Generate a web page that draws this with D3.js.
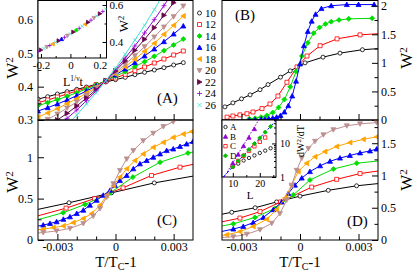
<!DOCTYPE html>
<html>
<head>
<meta charset="utf-8">
<script src="https://cdn.jsdelivr.net/npm/d3@7"></script>
<style>
  body { margin: 0; background: #fff; }
  svg text { font-family: 'Liberation Serif', 'Times New Roman', serif; fill: #000; }
</style>
</head>
<body>
<svg id="chart" width="415" height="272"></svg>
<script>
// ---- values ----
const sizes = [10, 12, 14, 16, 18, 20, 22, 24, 26]

// panel A, all sizes on one t grid
const tA = [-0.004, -0.0035, -0.003, -0.0025, -0.002, -0.0015, -0.001, -0.0005, 0, 0.0005, 0.001, 0.0015, 0.002, 0.0025, 0.003, 0.0035]
const wA10 = [0.363, 0.370, 0.378, 0.385, 0.392, 0.399, 0.407, 0.414, 0.421, 0.428, 0.436, 0.443, 0.450, 0.457, 0.465, 0.472]
const wA12 = [0.352, 0.360, 0.369, 0.378, 0.387, 0.396, 0.406, 0.416, 0.426, 0.437, 0.448, 0.459, 0.471, 0.483, 0.495, 0.507]
const wA14 = [0.343, 0.352, 0.361, 0.371, 0.382, 0.393, 0.405, 0.418, 0.431, 0.445, 0.460, 0.475, 0.491, 0.508, 0.525, 0.543]
const wA16 = [0.327, 0.337, 0.348, 0.360, 0.373, 0.387, 0.402, 0.418, 0.435, 0.453, 0.472, 0.492, 0.513, 0.535, 0.558, 0.582]
const wA18 = [0.309, 0.321, 0.334, 0.349, 0.364, 0.381, 0.399, 0.418, 0.438, 0.460, 0.482, 0.506, 0.530, 0.557, 0.584, 0.612]
const wA20 = [0.287, 0.302, 0.318, 0.336, 0.354, 0.374, 0.396, 0.418, 0.442, 0.467, 0.493, 0.520, 0.549, 0.579, 0.610, 0.642]
const wA22 = [0.264, 0.281, 0.300, 0.320, 0.342, 0.366, 0.391, 0.418, 0.447, 0.477, 0.509, 0.542, 0.577, 0.614, 0.652, 0.692]
const wA24 = [0.239, 0.259, 0.281, 0.305, 0.330, 0.358, 0.387, 0.418, 0.451, 0.486, 0.522, 0.561, 0.601, 0.643, 0.687, 0.732]
const wA26 = [0.208, 0.231, 0.257, 0.285, 0.315, 0.348, 0.382, 0.418, 0.456, 0.497, 0.540, 0.584, 0.631, 0.680, 0.731, 0.785]

// inset of A: collapse against L^(1/nu) t
const uIns = [-0.22, -0.2, -0.18, -0.16, -0.14, -0.12, -0.1, -0.08, -0.06, -0.04, -0.02, 0, 0.02, 0.04, 0.06, 0.08, 0.1, 0.12, 0.14, 0.16, 0.18, 0.2, 0.22, 0.24]
const wIns = [0.350, 0.357, 0.365, 0.373, 0.381, 0.389, 0.398, 0.407, 0.416, 0.425, 0.434, 0.444, 0.454, 0.464, 0.474, 0.485, 0.496, 0.507, 0.518, 0.530, 0.541, 0.553, 0.565, 0.578]
const lIns = [24, 22, 26, 20, 24, 18, 26, 22, 16, 24, 20, 26, 22, 14, 24, 26, 18, 22, 24, 20, 26, 22, 24, 26]

// panel B
const tB10 = [-0.00385, -0.00344, -0.003, -0.00256, -0.00205, -0.00164, -0.001, -0.0005, 0.00026, 0.00118, 0.00205, 0.0032, 0.0045]
const wB10 = [0.23, 0.30, 0.37, 0.44, 0.53, 0.62, 0.75, 0.86, 1.0, 1.1, 1.17, 1.23, 1.26]
const tB12 = [-0.00374, -0.00344, -0.00308, -0.00272, -0.00241, -0.00195, -0.00154, -0.00113, -0.00067, -0.00015, 0.00036, 0.00103, 0.0019, 0.00308, 0.0045]
const wB12 = [0.05, 0.07, 0.09, 0.11, 0.14, 0.20, 0.28, 0.42, 0.66, 0.93, 1.12, 1.30, 1.42, 1.49, 1.52]
const tB14 = [-0.0026, -0.0023, -0.002, -0.0017, -0.0014, -0.0011, -0.0008, -0.0005, -0.0002, 0.0001, 0.0004, 0.0007, 0.001, 0.0013, 0.0016, 0.002, 0.0025, 0.0037]
const wB14 = [0.02, 0.03, 0.05, 0.08, 0.13, 0.22, 0.36, 0.58, 0.85, 1.12, 1.35, 1.52, 1.62, 1.68, 1.72, 1.75, 1.77, 1.78]
const tB16 = [-0.0026, -0.0023, -0.002, -0.0018, -0.0016, -0.0014, -0.0012, -0.001, -0.0008, -0.0006, -0.0004, -0.0002, 0, 0.0002, 0.0004, 0.0006, 0.0008, 0.0011, 0.0016, 0.0024, 0.003, 0.0038]
const wB16 = [0.0, 0.005, 0.01, 0.015, 0.02, 0.035, 0.05, 0.08, 0.14, 0.25, 0.42, 0.68, 0.98, 1.3, 1.55, 1.73, 1.85, 1.95, 2.0, 2.02, 2.02, 2.02]

// panel C
const tC10 = [-0.0046, -0.0024, -0.0002, 0.002, 0.0042]
const wC10 = [0.34, 0.45, 0.57, 0.69, 0.78]
const tC12 = [-0.0045, -0.00255, -0.00108, 0.00039, 0.00186, 0.00333, 0.0045]
const wC12 = [0.26, 0.385, 0.50, 0.63, 0.78, 0.88, 0.94]
const tC14 = [-0.0044, -0.0027, -0.00157, -0.00028, 0.0009, 0.0023, 0.00374, 0.0045]
const wC14 = [0.22, 0.33, 0.43, 0.57, 0.76, 0.94, 1.05, 1.09]
const tC16 = [-0.0042, -0.00373, -0.00338, -0.00304, -0.00269, -0.00235, -0.002, -0.00166, -0.00132, -0.00097, -0.00063, -0.00028, -0.00003, 0.00023, 0.00058, 0.00092, 0.00126, 0.00161, 0.00195, 0.0023, 0.00264, 0.00298, 0.00333, 0.00367, 0.004]
const wC16 = [0.16, 0.18, 0.20, 0.22, 0.25, 0.28, 0.32, 0.36, 0.42, 0.48, 0.54, 0.60, 0.66, 0.72, 0.78, 0.86, 0.92, 0.96, 1.0, 1.04, 1.08, 1.10, 1.13, 1.16, 1.19]
const tC18 = [-0.0042, -0.00373, -0.00321, -0.00269, -0.00218, -0.00166, -0.00123, -0.0008, -0.00045, -0.00011, 0.00023, 0.00058, 0.001, 0.00143, 0.00195, 0.00247, 0.00298, 0.0035, 0.00393]
const wC18 = [0.12, 0.13, 0.15, 0.17, 0.21, 0.26, 0.32, 0.42, 0.54, 0.66, 0.76, 0.86, 0.96, 1.04, 1.12, 1.18, 1.24, 1.28, 1.31]
const tC20 = [-0.0042, -0.00373, -0.00304, -0.00235, -0.00166, -0.00115, -0.0008, -0.00045, -0.00011, 0.00023, 0.00058, 0.00092, 0.00143, 0.00195, 0.00247, 0.00298, 0.0035]
const wC20 = [0.08, 0.09, 0.11, 0.14, 0.20, 0.29, 0.38, 0.52, 0.68, 0.84, 0.98, 1.08, 1.20, 1.29, 1.37, 1.43, 1.48]

// panel D
const tD10 = [-0.0045, -0.0035, -0.0023, -0.0012, 0, 0.00145, 0.0029, 0.0045]
const wD10 = [0.37, 0.43, 0.50, 0.59, 0.68, 0.77, 0.84, 0.89]
const tD12 = [-0.0045, -0.00308, -0.00205, -0.001, 0.0006, 0.00188, 0.00308, 0.0045]
const wD12 = [0.25, 0.34, 0.44, 0.59, 0.82, 0.94, 1.03, 1.09]
const tD14 = [-0.0045, -0.00342, -0.00231, -0.00128, -0.00034, 0.00051, 0.00171, 0.00291, 0.0045]
const wD14 = [0.19, 0.25, 0.35, 0.49, 0.70, 0.93, 1.10, 1.19, 1.24]
const tD16 = [-0.0042, -0.00342, -0.00291, -0.0024, -0.00188, -0.00137, -0.00094, -0.0006, -0.00026, 0.00009, 0.00051, 0.00103, 0.00154, 0.00205, 0.00256, 0.00308, 0.00359, 0.00393]
const wD16 = [0.12, 0.17, 0.21, 0.27, 0.35, 0.47, 0.59, 0.72, 0.85, 0.96, 1.06, 1.15, 1.22, 1.27, 1.31, 1.35, 1.38, 1.41]
const tD18 = [-0.0045, -0.00376, -0.00308, -0.0024, -0.00171, -0.0012, -0.00077, -0.00043, -0.00009, 0.00034, 0.00077, 0.00128, 0.00188, 0.00256, 0.00325, 0.00393]
const wD18 = [0.05, 0.08, 0.13, 0.21, 0.32, 0.47, 0.65, 0.85, 1.06, 1.19, 1.29, 1.37, 1.45, 1.51, 1.56, 1.60]
const tD20 = [-0.0045, -0.00342, -0.00273, -0.00205, -0.00145, -0.00103, -0.00068, -0.00043, -0.00017, 0.00009, 0.00043, 0.00077, 0.0012, 0.00171, 0.0024, 0.00308, 0.00393]
const wD20 = [0.03, 0.05, 0.09, 0.16, 0.26, 0.41, 0.62, 0.85, 1.08, 1.27, 1.42, 1.53, 1.63, 1.71, 1.77, 1.80, 1.82]

// inset of D: dW^2/dT against L (log y)
const insL = [10, 12, 14, 16, 18, 20, 22, 24]
const insA = [2.0, 2.5, 3.1, 3.7, 4.4, 5.2, 6.1, 7.2]
const insLB = [10, 12, 14, 16, 18]
const insB = [2.6, 4.7, 8.4, 15, 27]
const insLC = [10, 12, 14, 16, 18, 20, 22]
const insC = [2.1, 3.0, 4.3, 6.0, 8.2, 11.2, 15]
const insD = [2.0, 3.0, 4.4, 6.6, 9.8, 14.6, 21.7, 32]
const fitLB = [6.8, 19.6]
const fitB = [1, 50]
const fitLD = [6.5, 26]
const fitD = [1, 48]

// ---- styles ----
const style = {
  10: { color: '#000000', shape: 'circle', open: true },
  12: { color: '#ff0000', shape: 'square', open: true },
  14: { color: '#00dd00', shape: 'diamond' },
  16: { color: '#0000ff', shape: 'up' },
  18: { color: '#ffa500', shape: 'left' },
  20: { color: '#bc8f8f', shape: 'down' },
  22: { color: '#670748', shape: 'right' },
  24: { color: '#9400d3', shape: 'plus' },
  26: { color: '#40e0d0', shape: 'cross' }
}

function shapePath (shape, s) {
  const k = s * 1.25
  switch (shape) {
    case 'circle': return `M${s},0A${s},${s} 0 1,1 ${-s},0A${s},${s} 0 1,1 ${s},0Z`
    case 'square': return `M${-s},${-s}H${s}V${s}H${-s}Z`
    case 'diamond': return `M0,${-k}L${k},0L0,${k}L${-k},0Z`
    case 'up': return `M0,${-k}L${k},${s}L${-k},${s}Z`
    case 'down': return `M0,${k}L${k},${-s}L${-k},${-s}Z`
    case 'left': return `M${-k},0L${s},${-k}L${s},${k}Z`
    case 'right': return `M${k},0L${-s},${-k}L${-s},${k}Z`
    case 'plus': return `M${-k},0H${k}M0,${-k}V${k}`
    case 'cross': return `M${-s},${-s}L${s},${s}M${-s},${s}L${s},${-s}`
  }
}

const svg = d3.select('#chart')
const defs = svg.append('defs')

function clipRect (id, x0, y0, x1, y1) {
  defs.append('clipPath').attr('id', id)
    .append('rect')
    .attr('x', x0).attr('y', y0)
    .attr('width', x1 - x0).attr('height', y1 - y0)
  return `url(#${id})`
}

function markers (g, pts, st, s) {
  const lineOnly = st.shape === 'plus' || st.shape === 'cross'
  g.selectAll(null).data(pts).enter().append('path')
    .attr('transform', d => `translate(${d[0]},${d[1]})`)
    .attr('d', shapePath(st.shape, s))
    .attr('fill', lineOnly ? 'none' : (st.open ? '#fff' : st.color))
    .attr('stroke', st.color)
    .attr('stroke-width', 0.8)
}

function series (g, xs, ys, t, w, st, s) {
  const pts = t.map((d, i) => [xs(d), ys(w[i])])
  g.append('path')
    .attr('d', d3.line()(pts))
    .attr('fill', 'none')
    .attr('stroke', st.color)
    .attr('stroke-width', 1)
  markers(g, pts, st, s)
}

function addAxis (orient, pos, scale, major, minor, fmt, opt) {
  const gen = { bottom: d3.axisBottom, left: d3.axisLeft, right: d3.axisRight }[orient]
  const tr = orient === 'bottom' ? `translate(0,${pos})` : `translate(${pos},0)`
  const gMin = svg.append('g').attr('transform', tr)
    .call(gen(scale).tickValues(minor).tickSize(-opt.minor).tickFormat(''))
  const gMaj = svg.append('g').attr('transform', tr)
    .call(gen(scale).tickValues(major).tickSize(-opt.major).tickPadding(opt.pad).tickFormat(fmt))
  ;[gMin, gMaj].forEach(g => {
    g.select('.domain').remove()
    g.attr('font-family', null).attr('font-size', opt.font)
  })
}

function frame (x0, y0, x1, y1, fill) {
  svg.append('rect')
    .attr('x', x0).attr('y', y0)
    .attr('width', x1 - x0).attr('height', y1 - y0)
    .attr('fill', fill || 'none')
    .attr('stroke', '#000')
    .attr('stroke-width', 1)
}

function wLabel (x, y, size) {
  const t = svg.append('text')
    .attr('transform', `translate(${x},${y}) rotate(-90)`)
    .attr('text-anchor', 'middle')
    .attr('font-size', size)
  t.append('tspan').text('W')
  t.append('tspan').attr('dy', '-0.42em').attr('font-size', '0.65em').text('2')
}

function tLabel (x, y) {
  const t = svg.append('text')
    .attr('x', x).attr('y', y)
    .attr('text-anchor', 'middle')
    .attr('font-size', 15)
  t.append('tspan').text('T/T')
  t.append('tspan').attr('dy', 2.5).attr('font-size', 10).text('C')
  t.append('tspan').attr('dy', -2.5).text('-1')
}

function tag (x, y, s) {
  svg.append('text').attr('x', x).attr('y', y).attr('font-size', 15).text(s)
}

const num = d => String(d)
const none = () => ''
const tMajor = [-0.003, 0, 0.003]
const tMinor = [-0.002, -0.001, 0.001, 0.002]

// ---- scales ----
const xL = d3.scaleLinear().domain([-0.004, 0.004]).range([38, 193])
const xR = d3.scaleLinear().domain([-0.004, 0.004]).range([222, 378])
const yA = d3.scaleLinear().domain([0.3, 0.66]).range([120, 0])
const yB = d3.scaleLinear().domain([0, 2.1]).range([120, 0])
const yC = d3.scaleLinear().domain([0, 1.45]).range([240, 120])
const yD = d3.scaleLinear().domain([0, 1.86]).range([240, 120])
const xIa = d3.scaleLinear().domain([-0.22, 0.245]).range([38, 106.5])
const yIa = d3.scaleLinear().domain([0.3135, 0.627]).range([58, 0])
const xId = d3.scaleLinear().domain([6, 26]).range([222, 276])
const yId = d3.scaleLog().domain([1, 50]).range([177, 120])

// ---- panel A ----
const gA = svg.append('g').attr('clip-path', clipRect('clipA', 38, 0, 193, 120))
const wAll = [wA10, wA12, wA14, wA16, wA18, wA20, wA22, wA24, wA26]
sizes.forEach((L, i) => series(gA, xL, yA, tA, wAll[i], style[L], 2))
frame(38, 0.5, 193, 120)
addAxis('left', 38, yA, [0.3, 0.4, 0.5, 0.6], [0.35, 0.45, 0.55, 0.65], d3.format('.1f'), { major: 6, minor: 3.5, pad: 5, font: 12 })
addAxis('bottom', 120, xL, tMajor, tMinor, none, { major: 6, minor: 3.5, pad: 3, font: 12 })

// inset of A
frame(38, 0.5, 106.5, 58, '#fff')
const gIa = svg.append('g').attr('clip-path', clipRect('clipIa', 38, 0, 106.5, 58))
uIns.forEach((u, i) => markers(gIa, [[xIa(u), yIa(wIns[i])]], style[lIns[i]], 1.6))
addAxis('bottom', 58, xIa, [-0.2, 0, 0.2], [-0.1, 0.1], num, { major: 4, minor: 2, pad: 3, font: 11 })
addAxis('right', 106.5, yIa, [0.4, 0.6], [0.5], num, { major: 4, minor: 2, pad: 3, font: 11 })
wLabel(128, 24, 13)
const lu = svg.append('text').attr('x', 63).attr('y', 86).attr('font-size', 12)
lu.append('tspan').text('L')
lu.append('tspan').attr('dy', -5).attr('font-size', 7.5).text('1/ν')
lu.append('tspan').attr('dy', 5).text('t')
tag(157, 103, '(A)')

// legend
sizes.forEach((L, i) => {
  const y = 13 + 11.5 * i
  markers(svg, [[199.5, y]], style[L], 2)
  svg.append('text').attr('x', 205).attr('y', y).attr('dy', '0.35em')
    .attr('font-size', 11).text(L)
})

// ---- panel B ----
const gB = svg.append('g').attr('clip-path', clipRect('clipB', 222, 0, 378, 120))
;[[tB10, wB10, 10], [tB12, wB12, 12], [tB14, wB14, 14], [tB16, wB16, 16]]
  .forEach(([t, w, L]) => series(gB, xR, yB, t, w, style[L], 2))
frame(222, 0.5, 378, 120)
addAxis('right', 378, yB, [0, 0.5, 1, 1.5, 2], [0.25, 0.75, 1.25, 1.75], num, { major: 6, minor: 3.5, pad: 3, font: 12 })
addAxis('bottom', 120, xR, tMajor, tMinor, none, { major: 6, minor: 3.5, pad: 3, font: 12 })
wLabel(412, 58, 17)
tag(235, 20, '(B)')

// ---- panel C ----
const gC = svg.append('g').attr('clip-path', clipRect('clipC', 38, 120, 193, 240))
;[[tC10, wC10, 10], [tC12, wC12, 12], [tC14, wC14, 14], [tC16, wC16, 16], [tC18, wC18, 18], [tC20, wC20, 20]]
  .forEach(([t, w, L]) => series(gC, xL, yC, t, w, style[L], 2))
frame(38, 120, 193, 240)
addAxis('left', 38, yC, [0, 0.5, 1], [0.25, 0.75, 1.25], num, { major: 6, minor: 3.5, pad: 5, font: 12 })
addAxis('bottom', 240, xL, tMajor, tMinor, num, { major: 6, minor: 3.5, pad: 2, font: 12 })
wLabel(18, 68, 17)
wLabel(18, 182, 17)
tLabel(116, 267)
tag(157, 225, '(C)')

// ---- panel D ----
const gD = svg.append('g').attr('clip-path', clipRect('clipD', 222, 120, 378, 240))
;[[tD10, wD10, 10], [tD12, wD12, 12], [tD14, wD14, 14], [tD16, wD16, 16], [tD18, wD18, 18], [tD20, wD20, 20]]
  .forEach(([t, w, L]) => series(gD, xR, yD, t, w, style[L], 2))
frame(222, 120, 378, 240)
addAxis('right', 378, yD, [0, 0.5, 1, 1.5], [0.25, 0.75, 1.25, 1.75], num, { major: 6, minor: 3.5, pad: 3, font: 12 })
addAxis('bottom', 240, xR, tMajor, tMinor, num, { major: 6, minor: 3.5, pad: 2, font: 12 })
wLabel(412, 180, 17)
tLabel(300, 267)
tag(347, 226, '(D)')

// inset of D
frame(222, 120, 276, 177, '#fff')
const gId = svg.append('g').attr('clip-path', clipRect('clipId', 222, 120, 276, 177))
gId.append('path')
  .attr('d', d3.line()(fitLB.map((L, i) => [xId(L), yId(fitB[i])])))
  .attr('fill', 'none').attr('stroke', '#9400d3').attr('stroke-width', 1)
  .attr('stroke-dasharray', '1.5,1.5')
gId.append('path')
  .attr('d', d3.line()(fitLD.map((L, i) => [xId(L), yId(fitD[i])])))
  .attr('fill', 'none').attr('stroke', '#0000ff').attr('stroke-width', 1)
  .attr('stroke-dasharray', '3,2')
const stA = { color: '#000000', shape: 'circle', open: true }
const stB = { color: '#9400d3', shape: 'up' }
const stC = { color: '#ff0000', shape: 'square', open: true }
const stD = { color: '#00bb00', shape: 'diamond' }
markers(gId, insL.map((L, i) => [xId(L), yId(insA[i])]), stA, 1.7)
markers(gId, insLC.map((L, i) => [xId(L), yId(insC[i])]), stC, 1.7)
markers(gId, insL.map((L, i) => [xId(L), yId(insD[i])]), stD, 1.7)
markers(gId, insLB.map((L, i) => [xId(L), yId(insB[i])]), stB, 1.7)
;[['A', stA], ['B', stB], ['C', stC], ['D', stD]].forEach(([k, st], i) => {
  const y = 127 + 9.6 * i
  markers(svg, [[225.5, y]], st, 1.7)
  svg.append('text').attr('x', 230).attr('y', y).attr('dy', '0.35em')
    .attr('font-size', 9).text(k)
})
addAxis('bottom', 177, xId, [10, 20], [15, 25], num, { major: 4, minor: 2, pad: 3, font: 10 })
addAxis('right', 276, yId, [1, 10], [2, 3, 4, 5, 6, 7, 8, 9, 20, 30, 40, 50], num, { major: 4, minor: 2, pad: 4, font: 10 })
svg.append('text').attr('x', 250).attr('y', 199).attr('text-anchor', 'middle')
  .attr('font-size', 11).text('L')
const dl = svg.append('text')
  .attr('transform', 'translate(304,141) rotate(-90)')
  .attr('text-anchor', 'middle')
  .attr('font-size', 10)
dl.append('tspan').text('dW')
dl.append('tspan').attr('dy', -3).attr('font-size', 7).text('2')
dl.append('tspan').attr('dy', 3).text('/dT')
</script>
</body>
</html>
